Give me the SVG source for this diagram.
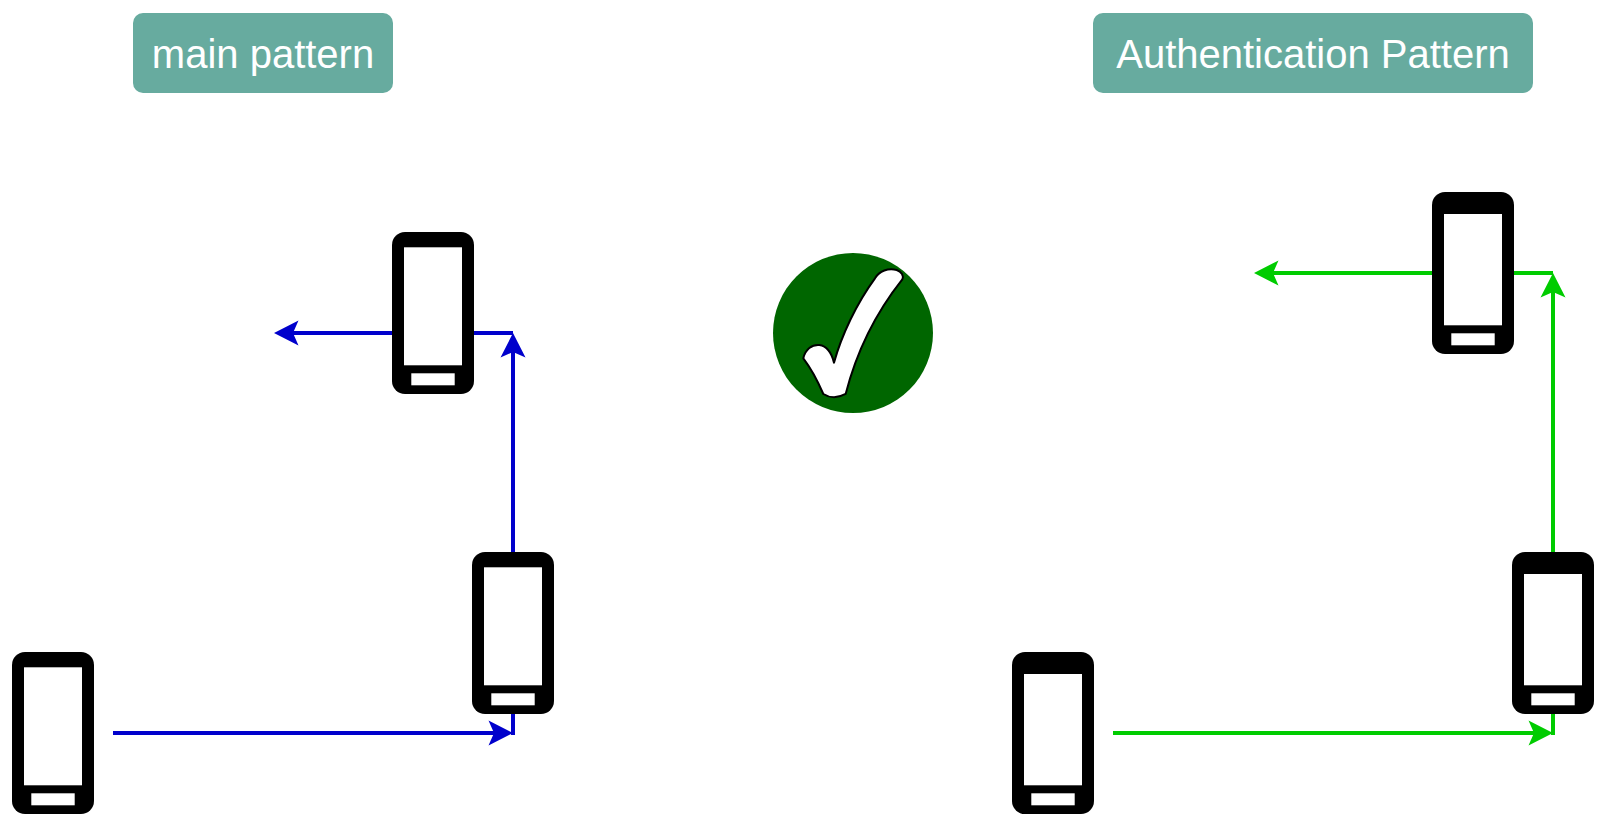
<svg xmlns="http://www.w3.org/2000/svg" width="1606" height="826" viewBox="0 0 1606 826">
<style>
.label{fill:#67ab9f}
.label-text{fill:#fff;font-family:"Liberation Sans",Arial,sans-serif;font-size:40px;text-anchor:middle}
.body{fill:#000}
.glass{fill:#fff}
.blue,.green{fill:none;stroke-width:4}
.blue{stroke:#0000cc}
.green{stroke:#00cc00}
</style>
<defs>
<marker id="arrow-blue" markerUnits="userSpaceOnUse" markerWidth="26" markerHeight="26" refX="13" refY="13" orient="auto" viewBox="0 0 26 26"><path d="M0.5 0.5L25 13L0.5 25.5L6 13Z" fill="#0000cc"/></marker>
<marker id="arrow-green" markerUnits="userSpaceOnUse" markerWidth="26" markerHeight="26" refX="13" refY="13" orient="auto" viewBox="0 0 26 26"><path d="M0.5 0.5L25 13L0.5 25.5L6 13Z" fill="#00cc00"/></marker>
<g id="phone-a"><rect class="body" width="82" height="162" rx="13"/><rect class="glass" x="12" y="15.3" width="58" height="118"/><rect class="glass" x="19.3" y="141.3" width="43.4" height="12"/></g>
<g id="phone-b"><rect class="body" width="82" height="162" rx="13"/><rect class="glass" x="12" y="22" width="58" height="111.3"/><rect class="glass" x="19.3" y="141.3" width="43.4" height="12"/></g>
</defs>

<g id="connectors">
<path class="blue" d="M113 733H501" marker-end="url(#arrow-blue)"/>
<path class="blue" d="M513 735V345" marker-end="url(#arrow-blue)"/>
<path class="blue" d="M513 333H286" marker-end="url(#arrow-blue)"/>
<path class="green" d="M1113 733H1541" marker-end="url(#arrow-green)"/>
<path class="green" d="M1553 735V285" marker-end="url(#arrow-green)"/>
<path class="green" d="M1553 273H1266" marker-end="url(#arrow-green)"/>
</g>

<g id="label-main"><rect class="label" x="133" y="13" width="260" height="80" rx="10"/><text class="label-text" x="263" y="68">main pattern</text></g>
<g id="label-auth"><rect class="label" x="1093" y="13" width="440" height="80" rx="10"/><text class="label-text" x="1313" y="68">Authentication Pattern</text></g>

<g id="phone-main-1"><use href="#phone-a" x="12" y="652"/></g>
<g id="phone-main-2"><use href="#phone-a" x="472" y="552"/></g>
<g id="phone-main-3"><use href="#phone-a" x="392" y="232"/></g>
<g id="phone-auth-1"><use href="#phone-b" x="1012" y="652"/></g>
<g id="phone-auth-2"><use href="#phone-b" x="1512" y="552"/></g>
<g id="phone-auth-3"><use href="#phone-b" x="1432" y="192"/></g>

<g id="check">
<circle cx="853" cy="333" r="80" fill="#006600"/>
<path transform="translate(760 240) scale(.3333)" d="M130 355C136 328 156 313 178 315C200 318 214 336 222 368C245 285 290 190 345 115C358 92 385 84 410 90C425 95 432 108 427 118C350 215 292 325 257 462C235 474 212 476 190 462C172 420 155 388 130 355Z" fill="#fff" stroke="#000" stroke-width="6" stroke-linejoin="round"/>
</g>
</svg>
